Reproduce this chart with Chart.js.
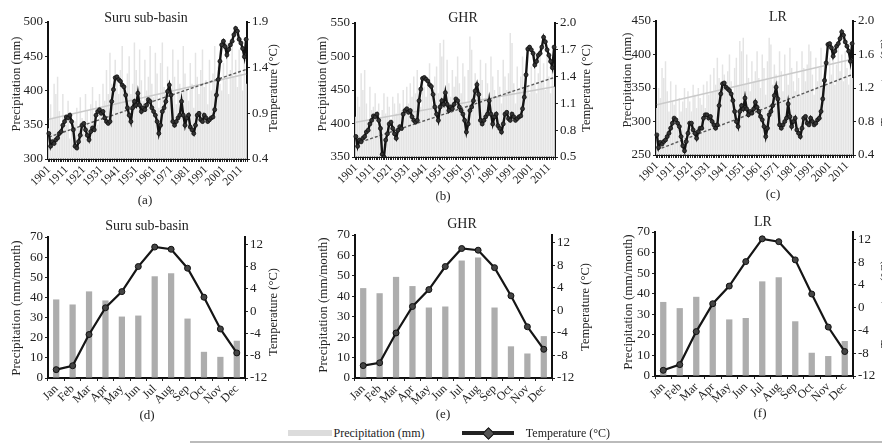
<!DOCTYPE html>
<html><head><meta charset="utf-8">
<script src="https://cdn.jsdelivr.net/npm/chart.js@4.4.1/dist/chart.umd.min.js"></script>
<style>
html,body{margin:0;padding:0;background:#fff;}
body{width:882px;height:444px;overflow:hidden;position:relative;font-family:"Liberation Serif","Times New Roman",serif;color:#222;}
canvas{position:absolute;}
.t{position:absolute;white-space:nowrap;transform:translate(-50%,-50%);line-height:1;}
.r{transform:translate(-50%,-50%) rotate(-90deg);}
</style></head><body>
<script>
// ---------- DATA ----------
const years = [1901,1902,1903,1904,1905,1906,1907,1908,1909,1910,1911,1912,1913,1914,1915,1916,1917,1918,1919,1920,
1921,1922,1923,1924,1925,1926,1927,1928,1929,1930,1931,1932,1933,1934,1935,1936,1937,1938,1939,1940,
1941,1942,1943,1944,1945,1946,1947,1948,1949,1950,1951,1952,1953,1954,1955,1956,1957,1958,1959,1960,
1961,1962,1963,1964,1965,1966,1967,1968,1969,1970,1971,1972,1973,1974,1975,1976,1977,1978,1979,1980,
1981,1982,1983,1984,1985,1986,1987,1988,1989,1990,1991,1992,1993,1994,1995,1996,1997,1998,1999,2000,
2001,2002,2003,2004,2005,2006,2007,2008,2009,2010,2011,2012,2013,2014];
const yearTicks = ['1901','1911','1921','1931','1941','1951','1961','1971','1981','1991','2001','2011'];
const months = ['Jan','Feb','Mar','Apr','May','Jun','Jul','Aug','Sep','Oct','Nov','Dec'];

// (a) Suru sub-basin annual
const precipA = [345,380,360,410,395,420,370,340,395,360, 350,385,330,365,340,355,375,345,390,360,
 340,395,370,350,380,405,365,385,350,395, 375,410,385,430,395,455,410,380,445,420,
 395,430,465,400,380,425,450,395,410,470, 430,395,460,415,385,445,400,420,465,410,
 390,455,425,375,440,470,405,385,435,415, 400,460,420,380,445,410,395,465,425,400,
 385,440,410,375,455,420,395,430,460,405, 415,380,445,400,425,465,390,435,410,400,
 440,415,470,395,430,480,420,445,405,460, 425,400,450,410];
const tempA = [0.68,0.54,0.59,0.57,0.61,0.63,0.68,0.70,0.77,0.81, 0.86,0.85,0.88,0.81,0.72,0.54,0.52,0.59,0.66,0.77,
 0.79,0.72,0.66,0.61,0.70,0.74,0.72,0.88,0.92,0.94, 0.90,0.92,0.85,0.81,0.79,0.81,1.03,1.16,1.29,1.30,
 1.27,1.25,1.21,1.19,1.10,0.96,0.88,0.81,0.96,1.03, 0.99,1.12,0.99,0.92,0.96,0.94,0.99,1.05,1.03,0.96,
 0.92,0.88,0.81,0.68,0.77,0.92,0.96,1.03,1.14,1.21, 1.10,0.81,0.77,0.81,0.85,0.88,1.03,0.88,0.77,0.85,
 0.88,0.75,0.72,0.68,0.77,0.88,0.90,0.83,0.81,0.88, 0.85,0.81,0.83,0.85,0.86,0.94,1.10,1.27,1.47,1.65,
 1.69,1.63,1.54,1.60,1.65,1.69,1.76,1.83,1.80,1.71, 1.67,1.61,1.52,1.71];
const precipTrendA = [358,424];
const tempTrendA = [0.64,1.38];

// (b) GHR annual
const precipB = [410,440,425,475,450,480,430,405,455,420, 425,445,400,430,410,420,445,415,440,425,
 405,440,430,415,445,430,420,450,415,455, 430,460,440,470,445,480,450,425,470,455,
 440,465,490,450,430,470,485,445,520,500, 525,450,495,460,440,480,455,470,500,460,
 445,490,470,430,480,530,510,450,475,460, 450,495,465,435,490,460,445,500,470,450,
 440,480,455,430,495,470,450,475,535,520, 460,430,485,450,470,500,440,480,455,445,
 485,460,505,445,475,515,465,490,450,500, 470,445,490,455];
const tempB = [0.73,0.62,0.69,0.67,0.71,0.73,0.78,0.80,0.87,0.91, 0.96,0.95,0.98,0.91,0.82,0.53,0.50,0.69,0.76,0.87,
 0.89,0.82,0.76,0.71,0.80,0.84,0.82,0.98,1.02,1.04, 1.00,1.02,0.95,0.91,0.89,0.91,1.13,1.26,1.38,1.39,
 1.37,1.35,1.31,1.29,1.20,1.06,0.98,0.91,1.06,1.13, 1.09,1.22,1.09,1.02,1.06,1.04,1.09,1.15,1.13,1.06,
 1.02,0.98,0.91,0.78,0.87,1.02,1.06,1.13,1.24,1.31, 1.20,0.91,0.87,0.91,0.95,0.98,1.13,0.98,0.87,0.95,
 0.98,0.85,0.82,0.78,0.87,0.98,1.00,0.93,0.91,0.98, 0.95,0.91,0.93,0.95,0.96,1.04,1.17,1.42,1.71,1.73,
 1.70,1.66,1.53,1.57,1.64,1.66,1.73,1.84,1.79,1.70, 1.64,1.57,1.50,1.73];
const precipTrendB = [402,455];
const tempTrendB = [0.65,1.39];

// (c) LR annual
const precipC = [320,350,335,380,365,390,345,315,360,330, 325,355,305,335,315,330,350,320,345,330,
 315,355,340,320,350,335,325,355,320,360, 340,370,345,380,355,395,365,335,385,370,
 350,375,400,360,340,380,395,355,420,405, 425,355,400,365,345,390,360,375,405,365,
 350,400,380,340,390,425,415,355,385,370, 360,405,375,345,400,370,355,410,380,360,
 345,390,365,340,405,380,360,385,415,405, 370,340,395,360,380,410,350,390,365,355,
 395,370,410,355,385,420,375,400,360,405, 380,355,400,365];
const tempC = [0.64,0.49,0.55,0.53,0.56,0.58,0.62,0.66,0.72,0.78, 0.84,0.82,0.78,0.74,0.62,0.51,0.45,0.56,0.66,0.78,
 0.78,0.70,0.66,0.60,0.68,0.72,0.72,0.84,0.88,0.88, 0.84,0.86,0.80,0.76,0.72,0.76,0.99,1.13,1.25,1.26,
 1.21,1.19,1.17,1.13,1.05,0.92,0.80,0.74,0.92,0.99, 0.95,1.08,0.95,0.88,0.92,0.90,0.95,1.03,0.97,0.92,
 0.86,0.82,0.74,0.62,0.72,0.88,0.92,0.99,1.11,1.21, 1.07,0.76,0.72,0.76,0.80,0.84,1.01,0.86,0.74,0.80,
 0.84,0.70,0.66,0.62,0.72,0.84,0.86,0.78,0.76,0.84, 0.80,0.76,0.78,0.82,0.84,0.92,1.07,1.29,1.50,1.72,
 1.73,1.68,1.58,1.64,1.70,1.73,1.79,1.87,1.83,1.75, 1.70,1.64,1.52,1.73];
const precipTrendC = [325,393];
const tempTrendC = [0.46,1.36];

// monthly
const precipD = [39,36.5,43,38.5,30.5,31,50.5,52,29.5,13,10.5,18.5];
const tempD = [-10.5,-9.8,-4.2,0.6,3.5,8.0,11.5,11.1,7.7,2.5,-3.2,-7.5];
const precipE = [44,41.5,49.5,45,34.5,35,57.5,59,34.5,15.5,12,20.5];
const tempE = [-9.8,-9.3,-4.0,0.7,3.7,7.8,11.0,10.7,7.6,2.6,-2.9,-6.9];
const precipF = [36,33,38.5,36,27.5,28.2,46,48,26.6,11.3,9.7,17];
const tempF = [-11.0,-10.0,-4.2,0.7,3.8,8.1,12.1,11.6,8.4,2.4,-3.4,-7.7];

// tick labels
const precipTicksA = [300,350,400,450,500];
const tempTicksA = [0.4,0.9,1.4,1.9];
const precipTicksB = [350,400,450,500,550];
const tempTicksB = [0.5,0.8,1.1,1.4,1.7,2.0];
const precipTicksC = [250,300,350,400,450];
const tempTicksC = [0.4,0.8,1.2,1.6,2.0];
const monthPrecipTicks = [0,10,20,30,40,50,60,70];
const monthTempTicks = [-12,-8,-4,0,4,8,12];

// ---------- LAYOUT ----------
Chart.defaults.font.family = '"Liberation Serif","Times New Roman",serif';
Chart.defaults.color = '#222';
const L = 40, R = 34, PT = 12, B = 48;

function addText(txt, x, y, size, rot) {
  const d = document.createElement('div');
  d.className = 't' + (rot ? ' r' : '');
  d.style.left = x + 'px'; d.style.top = y + 'px'; d.style.fontSize = size + 'px';
  d.textContent = txt;
  document.body.appendChild(d);
}
function endpoints(pair, n) {
  return Array.from({length: n}, (_, i) => i === 0 ? pair[0] : (i === n - 1 ? pair[1] : null));
}
function yAxis(pos, min, max, vals, fmt, w) {
  return {
    position: pos, min: min, max: max,
    afterBuildTicks: s => { s.ticks = vals.map(v => ({value: v})); },
    afterFit: s => { s.width = w; },
    ticks: {font: {size: 13}, color: '#222', padding: 2, callback: fmt},
    grid: {drawOnChartArea: false, drawTicks: true, tickLength: 3, color: '#222', lineWidth: 1},
    border: {display: true, color: '#111', width: 2}
  };
}
function makeChart(g, labels, datasets, xTickCb, xFont, yL, yR) {
  const c = document.createElement('canvas');
  const w = L + g.pw + R, h = PT + g.ph + B;
  c.width = w; c.height = h;
  c.style.left = (g.px - L) + 'px'; c.style.top = (g.py - PT) + 'px';
  c.style.width = w + 'px'; c.style.height = h + 'px';
  document.body.appendChild(c);
  new Chart(c, {
    type: 'bar',
    data: {labels: labels, datasets: datasets},
    options: {
      responsive: false, animation: false, devicePixelRatio: 1,
      layout: {padding: {top: PT, left: 0, right: 0, bottom: 0}},
      plugins: {legend: {display: false}, tooltip: {enabled: false}, title: {display: false}},
      scales: {
        x: {
          afterFit: s => { s.height = B; },
          ticks: {autoSkip: false, maxRotation: 45, minRotation: 45, font: {size: xFont}, color: '#222', padding: 1, callback: xTickCb},
          grid: {drawOnChartArea: false, drawTicks: true, tickLength: 3, color: '#222', lineWidth: 1},
          border: {display: true, color: '#111', width: 2}
        },
        y: yL,
        y1: yR
      }
    }
  });
}
function annualPanel(g, precip, temp, pTrend, tTrend, pMin, pMax, pTicks, tMin, tMax, tTicks) {
  const n = years.length;
  const ds = [
    {type: 'line', data: temp, yAxisID: 'y1', borderColor: '#141414', borderWidth: 2.4, pointRadius: 2,
     pointBackgroundColor: '#333', pointBorderColor: '#111', pointBorderWidth: 0.8, tension: 0, order: 0},
    {type: 'line', data: endpoints(tTrend, n), yAxisID: 'y1', borderColor: '#5a5a5a', borderWidth: 1.4,
     borderDash: [3, 2], pointRadius: 0, spanGaps: true, order: 1},
    {type: 'line', data: endpoints(pTrend, n), yAxisID: 'y', borderColor: '#cacaca', borderWidth: 1.5,
     pointRadius: 0, spanGaps: true, order: 2},
    {type: 'bar', data: precip, yAxisID: 'y', backgroundColor: '#e4e4e4', barPercentage: 0.85,
     categoryPercentage: 1.0, order: 3}
  ];
  makeChart(g, years, ds,
    (v, i) => yearTicks.includes(String(years[i])) ? String(years[i]) : '', 11.5,
    yAxis('left', pMin, pMax, pTicks, v => String(v), L),
    yAxis('right', tMin, tMax, tTicks, v => v.toFixed(1), R));
}
function monthlyPanel(g, precip, temp, tMax) {
  const ds = [
    {type: 'line', data: temp, yAxisID: 'y1', borderColor: '#151515', borderWidth: 2.2, pointRadius: 3,
     pointBackgroundColor: '#444', pointBorderColor: '#111', pointBorderWidth: 1, tension: 0, order: 0},
    {type: 'bar', data: precip, yAxisID: 'y', backgroundColor: '#adadad', barPercentage: 0.38,
     categoryPercentage: 1.0, order: 1}
  ];
  makeChart(g, months, ds, (v, i) => months[i], 12,
    yAxis('left', 0, 70, monthPrecipTicks, v => String(v), L),
    yAxis('right', -12, tMax, monthTempTicks, v => String(v), R));
}

// panels
annualPanel({px: 48, py: 22, pw: 199, ph: 137}, precipA, tempA, precipTrendA, tempTrendA, 300, 500, precipTicksA, 0.4, 1.9, tempTicksA);
annualPanel({px: 355, py: 23, pw: 200, ph: 134}, precipB, tempB, precipTrendB, tempTrendB, 350, 550, precipTicksB, 0.5, 2.0, tempTicksB);
annualPanel({px: 656, py: 21, pw: 197, ph: 134}, precipC, tempC, precipTrendC, tempTrendC, 250, 450, precipTicksC, 0.4, 2.0, tempTicksC);
monthlyPanel({px: 48, py: 237, pw: 197, ph: 141}, precipD, tempD, 13.3);
monthlyPanel({px: 355, py: 235, pw: 197, ph: 143}, precipE, tempE, 13.4);
monthlyPanel({px: 655, py: 232, pw: 198, ph: 144}, precipF, tempF, 13.3);

// titles and labels
addText('Suru sub-basin', 146, 18, 14); addText('GHR', 463, 18, 14); addText('LR', 778, 17, 14);
addText('Suru sub-basin', 147, 226, 14); addText('GHR', 462, 224, 14); addText('LR', 763, 222, 14);
addText('(a)', 145, 199, 13); addText('(b)', 443, 195, 13); addText('(c)', 773, 193, 13);
addText('(d)', 147, 414, 13); addText('(e)', 443, 413, 13); addText('(f)', 760, 412, 13);
addText('Precipitation (mm)', 16, 84, 12.5, true); addText('Precipitation (mm)', 322, 84, 12.5, true); addText('Precipitation (mm)', 627, 80, 12.5, true);
addText('Temperature (°C)', 273, 88, 12.5, true); addText('Temperature (°C)', 586, 88, 12.5, true); addText('Temperature (°C)', 885, 82, 12.5, true);
addText('Precipitation (mm/month)', 15, 308, 13, true); addText('Precipitation (mm/month)', 322, 305, 13, true); addText('Precipitation (mm/month)', 627, 302, 13, true);
addText('Temperature (°C)', 273, 312, 12.5, true); addText('Temperature (°C)', 585, 307, 12.5, true); addText('Temperature (°C)', 885, 304, 12.5, true);

// legend
function box(x, y, w, h, css) {
  const d = document.createElement('div');
  d.style.cssText = 'position:absolute;left:' + x + 'px;top:' + y + 'px;width:' + w + 'px;height:' + h + 'px;' + css;
  document.body.appendChild(d);
}
box(288, 430, 44, 6, 'background:#dcdcdc;');
addText('Precipitation (mm)', 379, 433, 12);
box(462, 431, 52, 3.5, 'background:#222;');
box(484, 429, 7, 7, 'background:#555;border:1px solid #111;transform:rotate(45deg);');
addText('Temperature (°C)', 568, 433, 12);
box(190, 441, 692, 1.5, 'background:#bbb;');
</script>
</body></html>
